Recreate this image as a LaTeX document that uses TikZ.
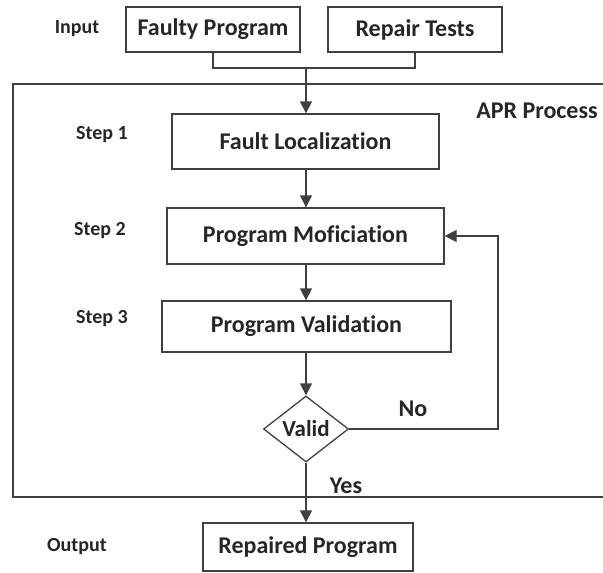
\documentclass[tikz,border=0pt]{standalone}
\usepackage{fontspec}
\setmainfont{Carlito}[Ligatures=NoCommon]
\usetikzlibrary{arrows.meta,shapes.geometric}
\definecolor{ln}{HTML}{404040}
\definecolor{tx}{HTML}{262626}
\tikzset{
  box/.style={draw=ln,line width=1.3pt,minimum width=#1,inner sep=0pt,text=tx,font=\fontsize{24}{26}\selectfont\bfseries},
  lab/.style={text=tx,font=\fontsize{20}{22}\selectfont\bfseries,inner sep=0pt},
  big/.style={text=tx,font=\fontsize{24}{26}\selectfont\bfseries,inner sep=0pt},
  conn/.style={draw=ln,line width=1.3pt},
  arr/.style={conn,-{Triangle[length=12pt,width=12pt]}}
}
\begin{document}
\begin{tikzpicture}[x=1pt,y=-1pt]
\useasboundingbox (0,0) rectangle (603,573);
% frame
\draw[conn] (603,84) -- (13,84) -- (13,497) -- (603,497);
% nodes
\node[box=174pt,minimum height=45pt] (faulty) at (213,29.5) {Faulty Program};
\node[box=174pt,minimum height=45pt] (repair) at (415,29.5) {Repair Tests};
\node[box=267pt,minimum height=55pt] (fl) at (305.5,141.5) {Fault Localization};
\node[box=277pt,minimum height=56pt] (pm) at (305.5,236) {Program Moficiation};
\node[box=289pt,minimum height=51pt] (pv) at (306.5,326.5) {Program Validation};
\node[draw=ln,line width=1.3pt,diamond,aspect=1.29,minimum width=85pt,minimum height=66pt,inner sep=0pt,text=tx,font=\fontsize{23}{25}\selectfont\bfseries] (dia) at (306,429) {Valid};
\node[box=210pt,minimum height=48pt] (rp) at (308,547) {Repaired Program};
% labels
\node[lab] (input) at (77,29) {Input};
\node[lab] (s1) at (102,135) {Step 1};
\node[lab] (s2) at (100,231) {Step 2};
\node[lab] (s3) at (102,319) {Step 3};
\node[lab] (output) at (77,547) {Output};
\node[big] (apr) at (537,111) {APR Process};
\node[big] (no) at (413,409) {No};
\node[big] (yes) at (346,486) {Yes};
% connectors
\coordinate (merge) at (306,68);
\coordinate (back) at (498,429);
\draw[conn] (faulty.south) -- (faulty.south |- merge) -- (repair.south |- merge) -- (repair.south);
\draw[arr] (merge) -- (merge |- fl.north);
\draw[arr] (fl.south -| 306,0) -- (pm.north -| 306,0);
\draw[arr] (pm.south -| 306,0) -- (pv.north -| 306,0);
\draw[arr] (pv.south -| 306,0) -- (dia.north);
\draw[arr] (dia.south) -- (rp.north -| dia.south);
\draw[arr] (dia.east) -- (back) |- (pm.east);
\end{tikzpicture}
\end{document}
